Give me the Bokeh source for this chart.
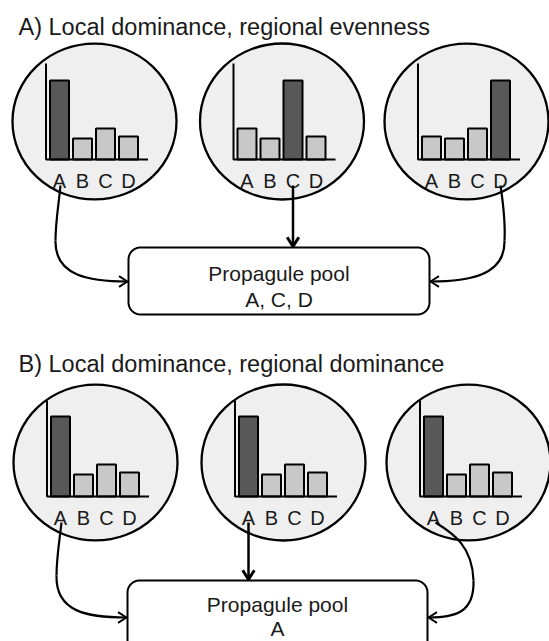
import numpy as np
from bokeh.plotting import figure
from bokeh.models import Range1d
from bokeh.core.properties import value
from bokeh.embed import file_html
from bokeh.resources import INLINE

# ---------------- data ----------------
species = ["A", "B", "C", "D"]
titles = ["A) Local dominance, regional evenness", "B) Local dominance, regional dominance"]
# relative abundances of species A-D at each of three sites
panel_a_sites = [
    [79, 21, 31, 23],
    [31, 21, 79, 23],
    [23, 21, 31, 79],
]
panel_b_sites = [
    [80, 22, 32, 24],
    [80, 22, 32, 24],
    [80, 22, 32, 24],
]
pool_label = "Propagule pool"
pool_a = "A, C, D"
pool_b = "A"

# ---------------- figure (data units == picture pixels) ----------------
FONT = value("Liberation Sans")
p = figure(width=549, height=641, x_range=Range1d(0, 549), y_range=Range1d(641, 0),
           output_backend="svg", toolbar_location=None, min_border=0,
           x_axis_type=None, y_axis_type=None, background_fill_color="white",
           border_fill_color="white")
p.outline_line_color = None
p.grid.visible = False

CIRCLE_FILL = "#efefef"
DARK = "#585858"
LIGHT = "#c8c8c8"
TXT = "#1a1a1a"
EW, EH = 164, 156


def rounded_rect(l, r, t, b, rad, n=12):
    xs, ys = [], []
    corners = [(r - rad, t + rad, -np.pi / 2, 0),
               (r - rad, b - rad, 0, np.pi / 2),
               (l + rad, b - rad, np.pi / 2, np.pi),
               (l + rad, t + rad, np.pi, 1.5 * np.pi)]
    for cx, cy, a0, a1 in corners:
        a = np.linspace(a0, a1, n)
        xs += list(cx + rad * np.cos(a))
        ys += list(cy + rad * np.sin(a))
    return xs, ys


def head(x, y, dx, dy, size=10, ang=np.radians(32)):
    d = np.hypot(dx, dy)
    ux, uy = dx / d, dy / d
    pts = []
    for s in (-1, 1):
        ca, sa = np.cos(s * ang), np.sin(s * ang)
        bx = -(ux * ca - uy * sa)
        by = -(ux * sa + uy * ca)
        pts.append((x + size * bx, y + size * by))
    return [pts[0][0], x, pts[1][0]], [pts[0][1], y, pts[1][1]]


def draw_site(cx, cy, base, vals):
    p.ellipse(x=[cx], y=[cy], width=EW, height=EH, fill_color=CIRCLE_FILL,
              line_color="black", line_width=2.3)
    ax = cx - 48.5
    xs = [ax + 13.5 + 23 * i for i in range(4)]
    mx = max(vals)
    colors = [DARK if v == mx else LIGHT for v in vals]
    tops = [base - v for v in vals]
    p.vbar(x=xs, width=19, bottom=base, top=tops, fill_color=colors,
           line_color="black", line_width=2)
    p.line([ax, ax, ax + 102], [base - 96, base, base], line_color="black", line_width=2)
    p.text(x=xs, y=[base + 21] * 4, text=species, text_font=FONT, text_font_size="20px",
           text_align="center", text_baseline="alphabetic", text_color=TXT)
    return xs


def draw_panel(title_y, circle_y, base_y, sites, xcs, title):
    p.text(x=[18], y=[title_y], text=[title], text_font=FONT, text_font_size="23.5px",
           text_align="left", text_baseline="alphabetic", text_color=TXT)
    return [draw_site(cx, circle_y, base_y, vals) for cx, vals in zip(xcs, sites)]


def pool_box(l, r, t, b, lines, baselines):
    bx, by = rounded_rect(l, r, t, b, 12)
    p.patch(bx, by, fill_color="white", line_color="black", line_width=2)
    cx = (l + r) / 2
    p.text(x=[cx] * len(lines), y=baselines, text=lines, text_font=FONT,
           text_font_size="21px", text_align="center", text_baseline="alphabetic", text_color=TXT)


def heads(specs):
    for (x, y, dx, dy, w, s) in specs:
        hx, hy = head(x, y, dx, dy, size=s)
        p.line(hx, hy, line_color="black", line_width=w)


# ---------------- Panel A ----------------
sa = draw_panel(26, 121, 159, panel_a_sites, [94, 281.5, 466], titles[0])
pool_box(128, 429, 247, 314, [pool_label, pool_a], [273, 299])
x1 = sa[0][0]
x2 = sa[1][2]
x3 = sa[2][3]
p.bezier(x0=[x1 + 1, x1 - 4], y0=[185, 240], x1=[x1 - 4, 127], y1=[240, 281],
         cx0=[x1 - 1, x1 - 5], cy0=[205, 276], cx1=[x1 - 4, 90], cy1=[222, 281],
         line_color="black", line_width=2.2)
p.bezier(x0=[x3, x3 + 4], y0=[185, 240], x1=[x3 + 4, 430], y1=[240, 281],
         cx0=[x3 + 3, x3 + 5], cy0=[205, 276], cx1=[x3 + 5, 466], cy1=[222, 281],
         line_color="black", line_width=2.2)
p.line([x2, x2], [185, 245], line_color="black", line_width=2.5)
heads([(127, 281, 1, 0, 2, 10), (430, 281, -1, 0, 2, 10), (x2, 246, 0, 1, 3, 11)])

# ---------------- Panel B ----------------
sb = draw_panel(363, 462, 496, panel_b_sites, [95, 283, 468], titles[1])
pool_box(127, 427, 580, 690, [pool_label, pool_b], [604, 628])
x1 = sb[0][0]
x2 = sb[1][0]
x3 = sb[2][0]
p.bezier(x0=[x1 + 1, x1 - 4], y0=[522, 575], x1=[x1 - 4, 126], y1=[575, 617],
         cx0=[x1 - 1, x1 - 5], cy0=[540, 612], cx1=[x1 - 4, 88], cy1=[558, 617],
         line_color="black", line_width=2.2)
p.bezier(x0=[x3 + 2, 473], y0=[522, 580], x1=[473, 428], y1=[580, 617],
         cx0=[x3 + 20, 474], cy0=[533, 612], cx1=[472, 455], cy1=[546, 617],
         line_color="black", line_width=2.2)
p.line([x2, x2], [522, 578], line_color="black", line_width=2.5)
heads([(126, 617, 1, 0, 2, 10), (428, 617, -1, 0, 2, 10), (x2, 579, 0, 1, 3, 11)])

open("out.html", "w").write(file_html(p, INLINE))
